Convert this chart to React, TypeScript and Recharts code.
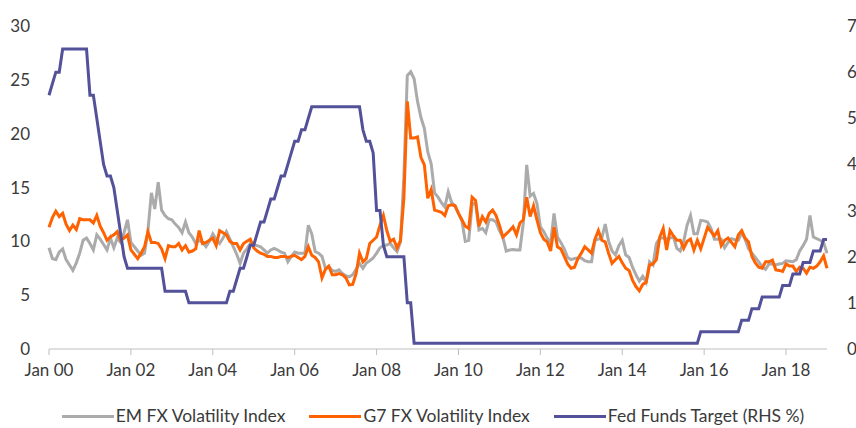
import React from "react";
import { LineChart, Line, XAxis, YAxis } from "recharts";

// Monthly values, Jan 2000 .. Jan 2019
const emFxVol = [
  9.4, 8.4, 8.3, 9.0, 9.3, 8.3, 7.8, 7.3, 8.0, 8.9, 10.1, 10.3,
  9.8, 9.2, 10.6, 10.2, 9.7, 9.2, 10.3, 9.4, 10.3, 9.9, 10.8, 12.0,
  9.9, 9.5, 9.1, 8.7, 8.9, 11.0, 14.5, 13.0, 15.5, 12.9, 12.4, 12.1,
  12.0, 11.6, 11.3, 10.8, 11.8, 10.8, 10.4, 9.8, 10.1, 9.9, 9.5, 10.0,
  10.7, 10.2, 9.8, 10.3, 10.9, 10.2, 9.5, 8.8, 7.95, 8.9, 9.3, 9.8,
  9.7, 9.6, 9.5, 9.2, 8.9, 9.2, 9.35, 9.2, 9.0, 8.9, 8.1, 8.6,
  9.0, 8.9, 8.9, 8.9, 11.5, 10.7, 9.05, 8.9, 8.6, 7.5, 7.65, 7.3,
  7.2, 7.35, 7.0, 6.8, 6.7, 6.9, 7.4, 7.95, 7.5, 8.0, 8.2, 8.45,
  8.9, 9.4, 9.6, 9.65, 9.8, 9.4, 9.05, 9.95, 16.0, 25.4, 25.75, 25.1,
  23.0, 21.5, 20.5, 18.3, 17.2, 14.5, 14.1, 13.6, 13.2, 14.6, 13.6, 13.3,
  12.6, 11.9, 10.0, 10.1, 13.4, 13.6, 11.05, 11.2, 10.8, 12.0, 12.0, 11.8,
  11.0, 10.4, 9.1, 9.2, 9.25, 9.2, 9.2, 11.7, 17.1, 14.2, 14.45, 13.5,
  11.35, 10.9, 10.3, 9.8, 12.6, 10.4, 9.9, 9.3, 8.5, 8.3, 8.4, 8.45,
  8.45, 8.2, 8.1, 8.1, 10.1, 10.2, 10.3, 11.6, 10.0, 9.1, 8.75, 9.6,
  10.1, 8.75, 8.5, 7.6, 6.9, 6.3, 6.75, 6.2, 8.1, 7.8, 9.8, 10.3,
  10.3, 10.25, 10.3, 10.4, 9.35, 9.1, 10.0, 11.5, 12.4, 10.7, 10.7, 11.95,
  11.9, 11.8, 11.2, 10.2, 10.2, 10.2, 9.4, 9.9, 10.25, 10.15, 10.1, 10.8,
  10.2, 9.3, 8.9, 8.5, 8.1, 7.65, 7.4, 7.9, 7.9, 7.8, 7.9, 7.95,
  8.2, 8.15, 8.1, 8.3, 9.1, 9.6, 10.2, 12.4, 10.4, 10.25, 10.1, 9.9,
  8.9,
];

const g7FxVol = [
  11.3, 12.2, 12.8, 12.3, 12.6, 11.6, 11.0, 11.5, 11.1, 12.1, 12.0, 12.0,
  12.0, 11.7, 12.4, 11.4, 10.8, 10.1, 10.4, 10.6, 10.9, 10.1, 10.3, 10.6,
  9.2, 8.8, 8.4, 8.9, 9.5, 10.9, 9.9, 9.9, 9.8, 9.3, 8.4, 9.6,
  9.5, 9.5, 9.8, 9.2, 9.6, 9.0, 9.1, 9.3, 11.0, 9.8, 9.9, 10.1,
  10.3, 9.6, 11.0, 10.8, 10.6, 10.0, 9.8, 9.8, 9.2, 9.8, 10.0, 10.2,
  9.4, 9.1, 8.9, 8.8, 8.6, 8.6, 8.5, 8.5, 8.6, 8.6, 8.5, 8.6,
  8.7, 8.5, 8.3, 8.6, 9.5, 8.7, 8.5, 8.1, 6.6, 7.4, 7.7, 6.9,
  6.9, 7.0, 6.9, 6.6, 5.95, 6.0, 7.0, 8.9, 8.1, 8.4, 9.8, 10.1,
  10.4, 11.5, 12.4, 11.0, 10.0, 10.2, 9.4, 10.1, 14.0, 23.0, 19.6, 19.6,
  19.7, 17.8, 17.1, 14.0, 14.8, 12.9, 12.8, 12.7, 12.4, 13.3, 13.4, 13.3,
  12.6, 12.0, 11.4, 11.2, 14.1, 13.8, 11.4, 12.3, 11.8, 12.6, 12.9, 12.4,
  11.5, 10.4, 10.7, 11.0, 11.35, 10.6, 11.7, 12.0, 14.1, 12.3, 13.3, 12.0,
  10.8, 10.2, 9.95, 9.1, 11.3, 9.5, 9.3, 8.6, 7.9, 7.5, 7.6, 8.4,
  8.9, 9.5, 9.2, 8.9, 10.2, 11.0, 10.1, 9.95, 8.9, 7.95, 8.3, 8.6,
  8.0, 7.5, 7.3, 6.4, 5.8, 5.4, 6.0, 6.2, 7.8, 7.9, 8.3, 10.4,
  11.2, 9.2, 11.0, 10.5, 10.1, 10.1, 9.35, 10.0, 10.2, 9.2, 10.1, 9.3,
  10.3, 11.3, 10.9, 10.5, 11.0, 9.6, 10.1, 10.3, 9.9, 9.5, 10.6, 11.0,
  10.3, 9.95, 8.6, 8.0, 7.6, 7.5, 8.1, 8.1, 8.25, 7.35, 7.3, 7.2,
  7.9, 7.7, 7.7, 7.2, 7.6, 7.5, 7.05, 7.6, 7.5, 7.7, 8.1, 8.65,
  7.5,
];

const fedFunds = [
  5.5, 5.75, 6.0, 6.0, 6.5, 6.5, 6.5, 6.5, 6.5, 6.5, 6.5, 6.5,
  5.5, 5.5, 5.0, 4.5, 4.0, 3.75, 3.75, 3.5, 3.0, 2.5, 2.0, 1.75,
  1.75, 1.75, 1.75, 1.75, 1.75, 1.75, 1.75, 1.75, 1.75, 1.75, 1.25, 1.25,
  1.25, 1.25, 1.25, 1.25, 1.25, 1.0, 1.0, 1.0, 1.0, 1.0, 1.0, 1.0,
  1.0, 1.0, 1.0, 1.0, 1.0, 1.25, 1.25, 1.5, 1.75, 1.75, 2.0, 2.25,
  2.25, 2.5, 2.75, 2.75, 3.0, 3.25, 3.25, 3.5, 3.75, 3.75, 4.0, 4.25,
  4.5, 4.5, 4.75, 4.75, 5.0, 5.25, 5.25, 5.25, 5.25, 5.25, 5.25, 5.25,
  5.25, 5.25, 5.25, 5.25, 5.25, 5.25, 5.25, 5.25, 4.75, 4.5, 4.5, 4.25,
  3.0, 3.0, 2.25, 2.0, 2.0, 2.0, 2.0, 2.0, 2.0, 1.0, 1.0, 0.125,
  0.125, 0.125, 0.125, 0.125, 0.125, 0.125, 0.125, 0.125, 0.125, 0.125, 0.125, 0.125,
  0.125, 0.125, 0.125, 0.125, 0.125, 0.125, 0.125, 0.125, 0.125, 0.125, 0.125, 0.125,
  0.125, 0.125, 0.125, 0.125, 0.125, 0.125, 0.125, 0.125, 0.125, 0.125, 0.125, 0.125,
  0.125, 0.125, 0.125, 0.125, 0.125, 0.125, 0.125, 0.125, 0.125, 0.125, 0.125, 0.125,
  0.125, 0.125, 0.125, 0.125, 0.125, 0.125, 0.125, 0.125, 0.125, 0.125, 0.125, 0.125,
  0.125, 0.125, 0.125, 0.125, 0.125, 0.125, 0.125, 0.125, 0.125, 0.125, 0.125, 0.125,
  0.125, 0.125, 0.125, 0.125, 0.125, 0.125, 0.125, 0.125, 0.125, 0.125, 0.125, 0.375,
  0.375, 0.375, 0.375, 0.375, 0.375, 0.375, 0.375, 0.375, 0.375, 0.375, 0.375, 0.625,
  0.625, 0.625, 0.875, 0.875, 0.875, 1.125, 1.125, 1.125, 1.125, 1.125, 1.125, 1.375,
  1.375, 1.375, 1.625, 1.625, 1.625, 1.875, 1.875, 1.875, 2.125, 2.125, 2.125, 2.375,
  2.375,
];

const xTickLabels = [
  "Jan 00", "Jan 02", "Jan 04", "Jan 06", "Jan 08",
  "Jan 10", "Jan 12", "Jan 14", "Jan 16", "Jan 18",
];
const leftTicks = [0, 5, 10, 15, 20, 25, 30];
const rightTicks = [0, 1, 2, 3, 4, 5, 6, 7];

const seriesNames = ["EM FX Volatility Index", "G7 FX Volatility Index", "Fed Funds Target (RHS %)"];
const seriesColors = ["#ABABAB", "#FF6200", "#525199"];

// month index -> row
const data = emFxVol.map((v, i) => ({
  t: i,
  em: v,
  g7: g7FxVol[i],
  fed: fedFunds[i],
}));

const xTicks = xTickLabels.map((_, i) => i * 24);

const FONT = "Lato, 'Open Sans', sans-serif";
const tickStyle = { fontSize: 17, fill: "#3a3a3a", fontFamily: FONT };

const App: React.FC = () => {
  return (
    <div style={{ position: "absolute", left: 0, top: 0, width: 856, height: 428, background: "#fff" }}>
      <LineChart
        width={856}
        height={428}
        data={data}
        margin={{ top: 26, right: 0, bottom: 0, left: 0 }}
      >
        <XAxis
          dataKey="t"
          type="number"
          domain={[0, 228]}
          ticks={xTicks}
          tickFormatter={(v: number) => xTickLabels[v / 24]}
          height={79}
          stroke="#BFBFBF"
          tickSize={6}
          tickMargin={9}
          tick={tickStyle}
          interval={0}
        />
        <YAxis
          yAxisId="left"
          domain={[0, 30]}
          ticks={leftTicks}
          width={49}
          axisLine={false}
          tickLine={false}
          tickSize={0}
          tickMargin={19}
          tick={tickStyle}
        />
        <YAxis
          yAxisId="right"
          orientation="right"
          domain={[0, 7]}
          ticks={rightTicks}
          width={29}
          axisLine={false}
          tickLine={false}
          tickSize={0}
          tickMargin={20}
          tick={tickStyle}
        />
        <Line
          yAxisId="left"
          type="linear"
          dataKey="em"
          name={seriesNames[0]}
          stroke={seriesColors[0]}
          strokeWidth={3}
          dot={false}
          isAnimationActive={false}
        />
        <Line
          yAxisId="left"
          type="linear"
          dataKey="g7"
          name={seriesNames[1]}
          stroke={seriesColors[1]}
          strokeWidth={3}
          dot={false}
          isAnimationActive={false}
        />
        <Line
          yAxisId="right"
          type="linear"
          dataKey="fed"
          name={seriesNames[2]}
          stroke={seriesColors[2]}
          strokeWidth={3}
          dot={false}
          isAnimationActive={false}
        />
      </LineChart>

      {/* legend row under the axis */}
      <div
        style={{
          position: "absolute",
          left: 0,
          top: 405,
          width: 866,
          display: "flex",
          justifyContent: "center",
          gap: 24,
          fontFamily: FONT,
          fontSize: 17.5,
          color: "#3a3a3a",
          lineHeight: "22px",
        }}
      >
        {seriesNames.map((name, i) => (
          <div key={name} style={{ display: "flex", alignItems: "center" }}>
            <span style={{ display: "inline-block", width: 52, height: 3, background: seriesColors[i], marginRight: 2 }} />
            <span>{name}</span>
          </div>
        ))}
      </div>
    </div>
  );
};

export default App;
